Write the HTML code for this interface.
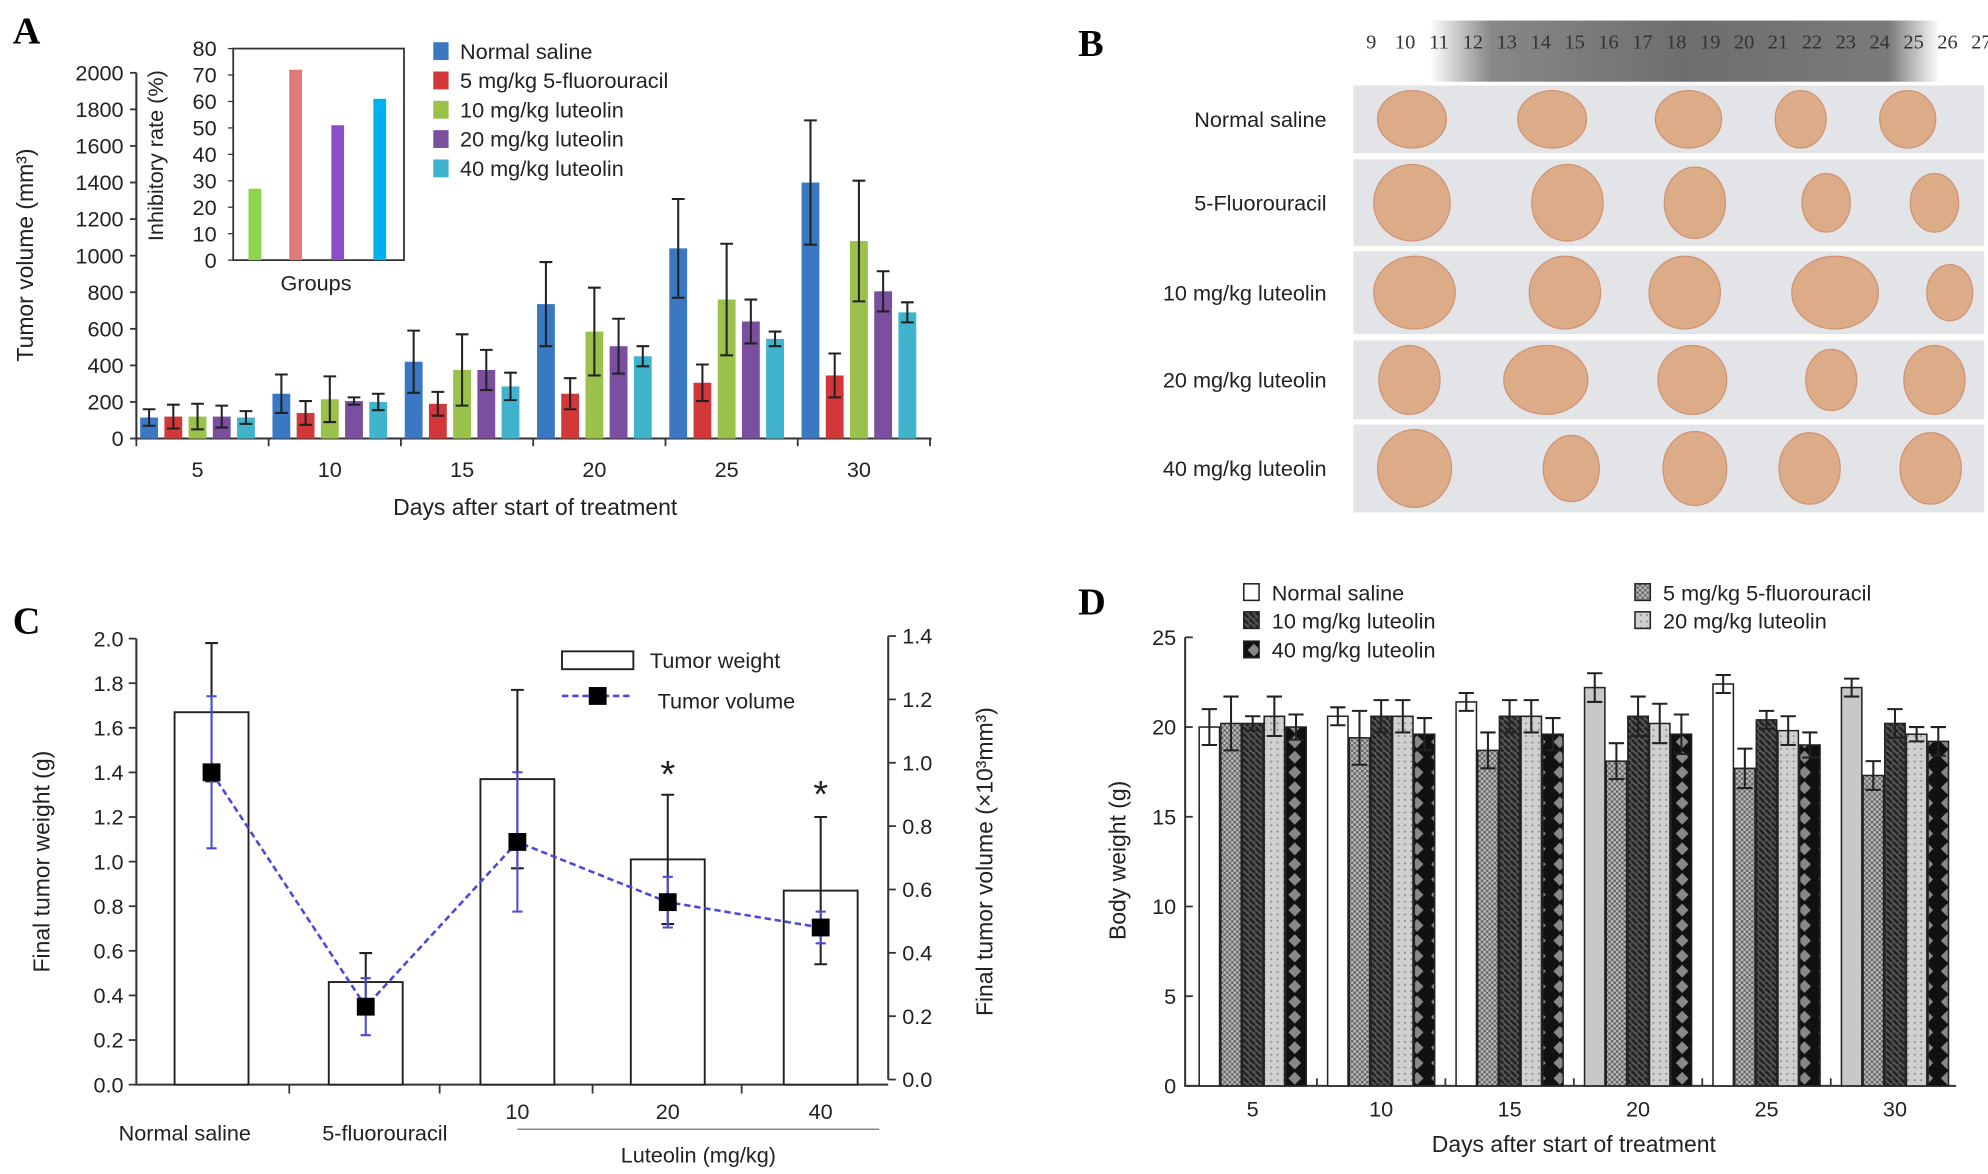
<!DOCTYPE html>
<html><head><meta charset="utf-8"><style>
html,body{margin:0;padding:0;background:#fff;}
svg{display:block;font-family:"Liberation Sans",sans-serif;}
</style></head><body>
<svg id="fig" width="1988" height="1174" viewBox="0 0 1560 921" xmlns="http://www.w3.org/2000/svg">
<defs>
<pattern id="pCross" width="4" height="4" patternUnits="userSpaceOnUse"><rect width="4" height="4" fill="#bbb"/><rect width="2" height="2" fill="#666"/><rect x="2" y="2" width="2" height="2" fill="#666"/></pattern>
<pattern id="pDiag" width="5" height="5" patternUnits="userSpaceOnUse"><rect width="5" height="5" fill="#555"/><path d="M0,0 L5,5" stroke="#222" stroke-width="2"/></pattern>
<pattern id="pDot" width="5" height="5" patternUnits="userSpaceOnUse"><rect width="5" height="5" fill="#d0d0d0"/><circle cx="2.5" cy="2.5" r="0.8" fill="#888"/></pattern>
<pattern id="pDiam" width="16" height="12" patternUnits="userSpaceOnUse"><rect width="16" height="12" fill="#111"/><path d="M8,1 L13,6 L8,11 L3,6Z" fill="#888"/></pattern>
<linearGradient id="ruler" x1="0" x2="1" y1="0" y2="0"><stop offset="0" stop-color="#fff"/><stop offset="0.12" stop-color="#888"/><stop offset="0.5" stop-color="#6e6e6e"/><stop offset="0.9" stop-color="#7a7a7a"/><stop offset="1" stop-color="#fff"/></linearGradient>
</defs>
<g id="gA"></g>
<g id="gB"></g>
<g id="gC"></g>
<g id="gD"></g>
</svg>
<script>
// ---- Panel A data ----
const daysA = ["5","10","15","20","25","30"];
const seriesA = ["Normal saline","5 mg/kg 5-fluorouracil","10 mg/kg luteolin","20 mg/kg luteolin","40 mg/kg luteolin"];
const nsA   = [115,245,420,735,1040,1400];
const fuA   = [120,140,190,245,305,345];
const l10A  = [120,215,375,585,760,1080];
const l20A  = [120,205,375,505,640,805];
const l40A  = [115,200,285,450,545,690];
const nsErrA  = [45,105,170,230,270,340];
const fuErrA  = [65,65,65,85,100,120];
const l10ErrA = [70,125,195,240,305,330];
const l20ErrA = [60,20,110,150,120,110];
const l40ErrA = [35,45,75,55,40,55];
const ticksA = [0,200,400,600,800,1000,1200,1400,1600,1800,2000];
const insetVals = [27,72,51,61];
const insetTicks = [0,10,20,30,40,50,60,70,80];
// ---- Panel C data ----
const groupsC = ["Normal saline","5-fluorouracil","10","20","40"];
const weightC = [1.67,0.46,1.37,1.01,0.87];
const weightErrC = [0.31,0.13,0.40,0.29,0.33];
const volumeC = [0.97,0.23,0.75,0.56,0.48];
const volumeErrC = [0.24,0.09,0.22,0.08,0.05];
const ticksCL = [0.0,0.2,0.4,0.6,0.8,1.0,1.2,1.4,1.6,1.8,2.0];
const ticksCR = [0.0,0.2,0.4,0.6,0.8,1.0,1.2,1.4];
// ---- Panel D data ----
const daysD = ["5","10","15","20","25","30"];
const nsD  = [20.0,20.6,21.4,22.2,22.4,22.2];
const fuD  = [20.2,19.4,18.7,18.1,17.7,17.3];
const l10D = [20.2,20.6,20.6,20.6,20.4,20.2];
const l20D = [20.6,20.6,20.6,20.2,19.8,19.6];
const l40D = [20.0,19.6,19.6,19.6,19.0,19.2];
const nsErrD  = [1.0,0.5,0.5,0.8,0.5,0.5];
const fuErrD  = [1.5,1.5,1.0,1.0,1.1,0.8];
const l10ErrD = [0.4,0.9,0.9,1.1,0.5,0.8];
const l20ErrD = [1.1,0.9,0.9,1.1,0.8,0.4];
const l40ErrD = [0.7,0.9,0.9,1.1,0.7,0.8];
const ticksD = [0,5,10,15,20,25];

const NS="http://www.w3.org/2000/svg";
function mk(parent,tag,attrs,text){const e=document.createElementNS(NS,tag);for(const k in attrs)e.setAttribute(k,attrs[k]);if(text!==undefined)e.textContent=text;parent.appendChild(e);return e;}
function errBar(g,x,y1,y2,w,col){
  const e=mk(g,'path',{d:`M${x},${y1}V${y2}M${x-w},${y1}H${x+w}M${x-w},${y2}H${x+w}`,stroke:col||'#222','stroke-width':1.6,fill:'none'});
  
  
  return e;
}

// ================= Panel A =================
(function(){
const g=document.getElementById('gA');
const yA=v=>344-v/2000*287, xA=i=>155+i*103.8;
const vals=[nsA,fuA,l10A,l20A,l40A], errs=[nsErrA,fuErrA,l10ErrA,l20ErrA,l40ErrA];
const cols=['#3a78c4','#d2383a','#9ac24a','#7b4fa0','#3fb4cc'];
let t=mk(g,'text',{x:10,y:34,'font-size':30,'font-weight':'bold','font-family':'Liberation Serif'},'A');

mk(g,'path',{d:'M107,57V344H731',stroke:'#333','stroke-width':1.6,fill:'none'});
ticksA.forEach(v=>{mk(g,'path',{d:`M102,${yA(v)}H107`,stroke:'#333','stroke-width':1.4});
 const l=mk(g,'text',{x:97,y:yA(v)+6,'font-size':17,'text-anchor':'end',fill:'#222'},String(v));
 });
for(let i=0;i<=6;i++){const x=107+i*103.8;mk(g,'path',{d:`M${x},344V350`,stroke:'#333','stroke-width':1.4});}
daysA.forEach((d,i)=>{
 const l=mk(g,'text',{x:xA(i),y:374,'font-size':17,'text-anchor':'middle',fill:'#222'},d);
 
 vals.forEach((s,k)=>{const x=xA(i)+(k-2)*19;
  const r=mk(g,'rect',{x:x-7,y:yA(s[i]),width:14,height:344-yA(s[i]),fill:cols[k]});
  
  errBar(g,x,yA(s[i]+errs[k][i]),yA(s[i]-errs[k][i]),5);});
});
t=mk(g,'text',{x:420,y:404,'font-size':18,'text-anchor':'middle',fill:'#222'},'Days after start of treatment');

t=mk(g,'text',{x:0,y:0,'font-size':18,'text-anchor':'middle',fill:'#222',transform:'translate(26,200) rotate(-90)'},'Tumor volume (mm³)');

// inset
const yI=v=>204-v/80*166;
const ic=['#8fd34a','#e07a78','#8c4fc8','#00b0f0'], ix=[200,232,265,298];
mk(g,'rect',{x:183,y:38,width:134,height:166,fill:'none',stroke:'#333','stroke-width':1.4});
insetTicks.forEach(v=>{mk(g,'path',{d:`M179,${yI(v)}H183`,stroke:'#333'});
 const l=mk(g,'text',{x:170,y:yI(v)+6,'font-size':17,'text-anchor':'end',fill:'#222'},String(v));
 });
insetVals.forEach((v,k)=>{const r=mk(g,'rect',{x:ix[k]-5,y:yI(v),width:10,height:204-yI(v),fill:ic[k]});
 });
t=mk(g,'text',{x:248,y:228,'font-size':17,'text-anchor':'middle',fill:'#222'},'Groups');

t=mk(g,'text',{x:0,y:0,'font-size':17,'text-anchor':'middle',fill:'#222',transform:'translate(128,122) rotate(-90)'},'Inhibitory rate (%)');

seriesA.forEach((s,k)=>{const y=40+k*23;
 const e=mk(g,'rect',{x:340,y:y-7,width:12,height:14,fill:cols[k]});
 
 const l=mk(g,'text',{x:361,y:y+6,'font-size':17,fill:'#222'},s);
 });
})();

// ================= Panel B =================
(function(){
const g=document.getElementById('gB');
let t=mk(g,'text',{x:846,y:44,'font-size':30,'font-weight':'bold','font-family':'Liberation Serif'},'B');

const rl=mk(g,'rect',{x:1122,y:16,width:400,height:48,fill:'url(#ruler)'});

for(let n=9;n<=27;n++){const x=1076+(n-9)*26.6;mk(g,'text',{x:x,y:38,'font-size':16,'text-anchor':'middle','font-family':'Liberation Serif',fill:'#333'},String(n));}
const labels=['Normal saline','5-Fluorouracil','10 mg/kg luteolin','20 mg/kg luteolin','40 mg/kg luteolin'];
const rows=[[67,120],[125,193],[197,262],[267,329],[333,402]];
const xs=[[1108,1218,1325,1413,1497],[1108,1230,1330,1433,1518],[1110,1228,1322,1440,1530],[1106,1213,1328,1437,1518],[1110,1233,1330,1420,1515]];
const sz=[[27,27,26,20,22],[30,28,24,19,19],[32,28,28,34,18],[24,33,27,20,24],[29,22,25,24,24]];
labels.forEach((lab,i)=>{const [y1,y2]=rows[i];
 const r=mk(g,'rect',{x:1062,y:y1,width:495,height:y2-y1,fill:'#e3e4e8'});
 
 const l=mk(g,'text',{x:1041,y:(y1+y2)/2+6,'font-size':17,'text-anchor':'end',fill:'#222'},lab);
 
 xs[i].forEach((x,k)=>{const e=mk(g,'ellipse',{cx:x,cy:(y1+y2)/2,rx:sz[i][k],ry:Math.min((y2-y1)/2-4,sz[i][k]+4),fill:'#dcab88',stroke:'#d09474','stroke-width':1});
  });
});
})();

// ================= Panel C =================
(function(){
const g=document.getElementById('gC');
const yL=v=>851-v/2*350, yR=v=>847-v/1.4*348, xc=[166,287,406,524,644];
let t=mk(g,'text',{x:10,y:497,'font-size':30,'font-weight':'bold','font-family':'Liberation Serif'},'C');

mk(g,'path',{d:'M107,501V851H697',stroke:'#333','stroke-width':1.6,fill:'none'});
mk(g,'path',{d:'M697,499V847',stroke:'#333','stroke-width':1.6,fill:'none'});
ticksCL.forEach(v=>{mk(g,'path',{d:`M101,${yL(v)}H107`,stroke:'#333','stroke-width':1.4});
 const l=mk(g,'text',{x:97,y:yL(v)+6,'font-size':17,'text-anchor':'end',fill:'#222'},v.toFixed(1));
 });
ticksCR.forEach(v=>{mk(g,'path',{d:`M697,${yR(v)}H703`,stroke:'#333','stroke-width':1.4});
 const l=mk(g,'text',{x:708,y:yR(v)+6,'font-size':17,fill:'#222'},v.toFixed(1));
 });
[227,345,465,582].forEach(x=>mk(g,'path',{d:`M${x},851V858`,stroke:'#333','stroke-width':1.4}));
weightC.forEach((v,i)=>{const r=mk(g,'rect',{x:xc[i]-29,y:yL(v),width:58,height:851-yL(v),fill:'#fff',stroke:'#222','stroke-width':1.5});
 
 errBar(g,xc[i],yL(v+weightErrC[i]),yL(v-weightErrC[i]),5);});
let d='';volumeC.forEach((v,i)=>{d+=(i?'L':'M')+xc[i]+','+yR(v);});
const ln=mk(g,'path',{d:d,stroke:'#4a4ad8','stroke-width':2,'stroke-dasharray':'5,3',fill:'none'});

volumeC.forEach((v,i)=>{errBar(g,xc[i],yR(v+volumeErrC[i]),yR(v-volumeErrC[i]),4,'#4a4ad8');
 const m=mk(g,'rect',{x:xc[i]-7,y:yR(v)-7,width:14,height:14,fill:'#000'});
 });
[[524,1.30],[644,1.21]].forEach(([x,w])=>{const s=mk(g,'text',{x:x,y:yL(w)-6,'font-size':30,'text-anchor':'middle',fill:'#222'},'*');
 });
let e=mk(g,'rect',{x:441,y:511,width:56,height:14,fill:'#fff',stroke:'#222','stroke-width':1.5});

t=mk(g,'text',{x:510,y:524,'font-size':17,fill:'#222'},'Tumor weight');
mk(g,'path',{d:'M441,546H497',stroke:'#4a4ad8','stroke-width':2,'stroke-dasharray':'5,3'});
mk(g,'rect',{x:462,y:539,width:14,height:14,fill:'#000'});
t=mk(g,'text',{x:516,y:556,'font-size':17,fill:'#222'},'Tumor volume');
groupsC.forEach((lab,i)=>{const y=i<2?895:878;
 const l=mk(g,'text',{x:i==0?145:(i==1?302:xc[i]),y:y,'font-size':17,'text-anchor':'middle',fill:'#222'},lab);
 });
mk(g,'path',{d:'M406,886H690',stroke:'#888','stroke-width':1.2});
t=mk(g,'text',{x:548,y:912,'font-size':17,'text-anchor':'middle',fill:'#222'},'Luteolin (mg/kg)');

t=mk(g,'text',{x:0,y:0,'font-size':18,'text-anchor':'middle',fill:'#222',transform:'translate(39,676) rotate(-90)'},'Final tumor weight (g)');

t=mk(g,'text',{x:0,y:0,'font-size':18,'text-anchor':'middle',fill:'#222',transform:'translate(779,676) rotate(-90)'},'Final tumor volume (×10³mm³)');

})();

// ================= Panel D =================
(function(){
const g=document.getElementById('gD');
const yD=v=>852-v/25*352, xD=i=>983+i*100.8;
const vals=[nsD,fuD,l10D,l20D,l40D], errs=[nsErrD,fuErrD,l10ErrD,l20ErrD,l40ErrD];
const fills=['#fff','url(#pCross)','url(#pDiag)','url(#pDot)','url(#pDiam)'];
const nsFill=['#fff','#fff','#fff','#c8c8c8','#fff','#c8c8c8'];
let t=mk(g,'text',{x:846,y:482,'font-size':30,'font-weight':'bold','font-family':'Liberation Serif'},'D');

mk(g,'path',{d:'M930,500V852H1535',stroke:'#333','stroke-width':1.6,fill:'none'});
ticksD.forEach(v=>{mk(g,'path',{d:`M930,${yD(v)}H936`,stroke:'#333','stroke-width':1.4});
 const l=mk(g,'text',{x:923,y:yD(v)+6,'font-size':17,'text-anchor':'end',fill:'#222'},String(v));
 });
for(let i=1;i<6;i++){const x=983+(i-0.5)*100.8;mk(g,'path',{d:`M${x},852V846`,stroke:'#333','stroke-width':1.4});}
daysD.forEach((d,i)=>{
 const l=mk(g,'text',{x:xD(i),y:876,'font-size':17,'text-anchor':'middle',fill:'#222'},d);
 
 vals.forEach((s,k)=>{const x=xD(i)+(k-2)*17;
  const r=mk(g,'rect',{x:x-8,y:yD(s[i]),width:16,height:852-yD(s[i]),fill:k==0?nsFill[i]:fills[k],stroke:'#222','stroke-width':1.2});
  
  errBar(g,x,yD(s[i]+errs[k][i]),yD(s[i]-errs[k][i]),6);});
});
t=mk(g,'text',{x:1235,y:904,'font-size':18,'text-anchor':'middle',fill:'#222'},'Days after start of treatment');

t=mk(g,'text',{x:0,y:0,'font-size':18,'text-anchor':'middle',fill:'#222',transform:'translate(883,675) rotate(-90)'},'Body weight (g)');

const leg=[['Normal saline',976,465,0],['10 mg/kg luteolin',976,487,2],['40 mg/kg luteolin',976,510,4],['5 mg/kg 5-fluorouracil',1283,465,1],['20 mg/kg luteolin',1283,487,3]];
leg.forEach(([s,x,y,k])=>{const e=mk(g,'rect',{x:x,y:y-7,width:12,height:13,fill:fills[k],stroke:'#222','stroke-width':1.2});
 
 const l=mk(g,'text',{x:x+22,y:y+6,'font-size':17,fill:'#222'},s);
 });
})();
</script>
</body></html>
